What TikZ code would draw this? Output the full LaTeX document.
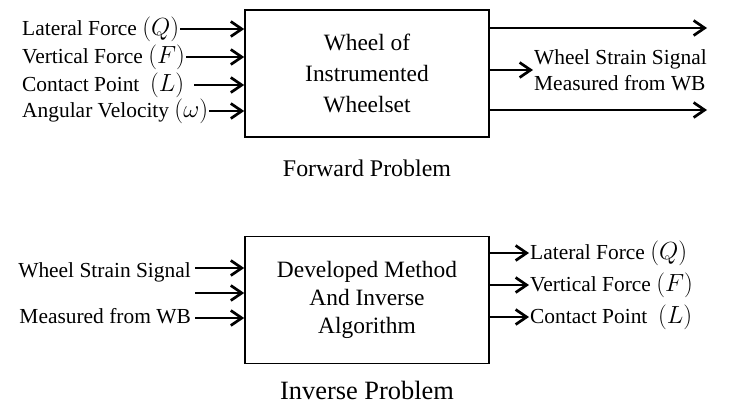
\documentclass[tikz,border=0pt]{standalone}
\usepackage{amsmath}
\usepackage{fontspec}
\setmainfont{Liberation Serif}
\usetikzlibrary{arrows.meta,positioning}

\newcommand{\lblmath}[1]{{\fontsize{26}{26}\selectfont$#1$}}

\tikzset{
  blk/.style={draw,line width=1.6bp,minimum width=244bp,minimum height=127bp,
    inner sep=0pt,align=center,font=\fontsize{23.5}{31}\selectfont},
  lbl/.style={inner sep=1bp,font=\fontsize{21.5}{26}\selectfont},
  arr/.style={line width=2.7bp,-{Straight Barb[length=11bp,width=15bp,line width=2.7bp]}},
  ttl/.style={inner sep=0pt}
}

\begin{document}
\begin{tikzpicture}[x=1bp,y=-1bp]
  \useasboundingbox (0,0) rectangle (747,412);
  % forward problem
  \node[blk] (fwd) at (367,73.5) {Wheel of\\Instrumented\\Wheelset};
  \node[ttl,font=\fontsize{24}{28}\selectfont] (fwdt) at (367,168) {Forward Problem};

  \node[lbl,anchor=west] (q) at (21,29) {Lateral Force \lblmath{(Q)}};
  \node[lbl,anchor=west] (f) at (21,57) {Vertical Force \lblmath{(F)}};
  \node[lbl,anchor=west] (l) at (21,85) {Contact Point\ \ \lblmath{(L)}};
  \node[lbl,anchor=west] (w) at (21,111) {Angular Velocity \lblmath{(\omega)}};
  \draw[arr] (q.east) -- (q.east -| fwd.west);
  \draw[arr] (f.east) -- (f.east -| fwd.west);
  \draw[arr] ([xshift=9bp]l.east) -- (l.east -| fwd.west);
  \draw[arr] (w.east) -- (w.east -| fwd.west);

  \coordinate (o1) at (707,28);
  \coordinate (o3) at (707,110);
  \node[lbl,anchor=west,align=left] (sig) at (533,70) {Wheel Strain Signal\\Measured from WB};
  \draw[arr] (o1 -| fwd.east) -- (o1);
  \draw[arr] (sig.west -| fwd.east) -- (sig.west);
  \draw[arr] (o3 -| fwd.east) -- (o3);

  % inverse problem
  \node[blk,font=\fontsize{23.5}{28}\selectfont] (inv) at (367,300) {Developed Method\\And Inverse\\Algorithm};
  \node[ttl,font=\fontsize{26.5}{30}\selectfont] (invt) at (367,390) {Inverse Problem};

  \coordinate (s1) at (195,268);
  \coordinate (s2) at (195,293);
  \coordinate (s3) at (195,318);
  \node[lbl,anchor=east] (ws) at (192,272) {Wheel Strain Signal};
  \node[lbl,anchor=east] (mw) at (192,316) {Measured from WB};
  \draw[arr] (s1) -- (s1 -| inv.west);
  \draw[arr] (s2) -- (s2 -| inv.west);
  \draw[arr] (s3) -- (s3 -| inv.west);

  \coordinate (e1) at (529,253);
  \coordinate (e2) at (529,285);
  \coordinate (e3) at (529,317);
  \node[lbl,anchor=west] (rq) at (e1) {Lateral Force \lblmath{(Q)}};
  \node[lbl,anchor=west] (rf) at (e2) {Vertical Force \lblmath{(F)}};
  \node[lbl,anchor=west] (rl) at (e3) {Contact Point\ \ \lblmath{(L)}};
  \draw[arr] (e1 -| inv.east) -- (rq.west);
  \draw[arr] (e2 -| inv.east) -- (rf.west);
  \draw[arr] (e3 -| inv.east) -- (rl.west);
\end{tikzpicture}
\end{document}
